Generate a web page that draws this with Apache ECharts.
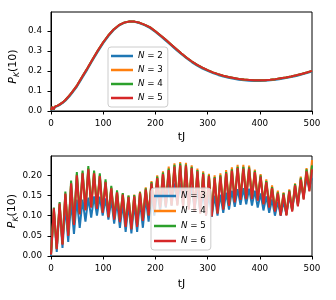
<!DOCTYPE html>
<html><head><meta charset="utf-8">
<script src="https://cdn.jsdelivr.net/npm/echarts@6/dist/echarts.min.js"></script>
<style>html,body{margin:0;padding:0;background:#fff}#c{width:336px;height:300px}</style>
</head><body><div id="c"></div>
<script>
// ---- top panel data ----
const topT = [0,2.5,5,7.5,10,12.5,15,17.5,20,22.5,25,27.5,30,35,40,45,50,60,70,80,90,100,110,120,130,140,150,160,170,180,190,200,210,220,230,240,250,260,270,280,290,300,310,320,330,340,350,360,370,380,390,400,410,420,430,440,450,460,470,480,490,500];
const topN2 = [0.004,0.017,0.006,0.019,0.011,0.024,0.018,0.031,0.027,0.040,0.039,0.051,0.054,0.072,0.088,0.105,0.123,
  0.166,0.209,0.254,0.297,0.338,0.374,0.404,0.426,0.440,0.446,0.445,0.438,0.427,0.413,0.394,0.373,0.351,0.328,0.305,0.283,
  0.262,0.243,0.226,0.212,0.200,0.189,0.180,0.172,0.166,0.161,0.156,0.153,0.151,0.150,0.150,0.151,0.153,0.156,0.160,0.164,
  0.169,0.175,0.182,0.189,0.197];
const topN345 = [0.006,0.020,0.008,0.022,0.013,0.027,0.020,0.034,0.030,0.043,0.042,0.055,0.058,0.077,0.093,0.110,0.128,
  0.172,0.215,0.260,0.303,0.343,0.378,0.407,0.428,0.441,0.447,0.446,0.440,0.430,0.417,0.398,0.377,0.355,0.332,0.309,0.287,
  0.266,0.247,0.230,0.216,0.204,0.193,0.184,0.176,0.170,0.165,0.160,0.157,0.155,0.153,0.153,0.154,0.156,0.159,0.163,0.167,
  0.172,0.178,0.185,0.192,0.200];

// ---- bottom panel data (alternating trough / peak times) ----
const botT = [0,5.5,11,16.5,22,27.5,33,38.5,44,49.5,55,60.5,66,71.5,77,82.5,88,93.5,99,104.5,110,115.5,121,126.5,132,137.5,143,148.5,154,159.5,165,170.5,176,181.5,187,192.5,198,203.5,209,214.5,220,225.5,231,236.5,242,247.5,253,258.5,264,269.5,275,280.5,286,291.5,297,302.5,308,313.5,319,324.5,330,335.5,341,346.5,352,357.5,363,368.5,374,379.5,385,390.5,396,401.5,407,412.5,418,423.5,429,434.5,440,445.5,451,456.5,462,467.5,473,478.5,484,489.5,495,500];
const n3Troughs = [0.0,0.01,0.02,0.035,0.055,0.07,0.085,0.095,0.1,0.1,0.09,0.08,0.07,0.06,0.056,0.06,0.07,0.085,0.1,0.11,0.12,0.125,0.128,0.127,0.122,0.115,0.107,0.1,0.097,0.1,0.107,0.115,0.122,0.127,0.128,0.125,0.12,0.113,0.107,0.1,0.1,0.103,0.115,0.13,0.15,0.172];
const n3Peaks   = [0.11,0.12,0.125,0.135,0.14,0.14,0.145,0.148,0.147,0.143,0.14,0.135,0.13,0.128,0.13,0.135,0.145,0.155,0.165,0.172,0.178,0.18,0.18,0.178,0.172,0.165,0.158,0.152,0.15,0.152,0.157,0.162,0.166,0.168,0.167,0.162,0.155,0.148,0.14,0.134,0.135,0.148,0.163,0.178,0.19,0.193];
const n4Troughs = [0.004,0.018,0.03,0.052,0.08,0.105,0.115,0.122,0.12,0.11,0.1,0.095,0.09,0.078,0.07,0.078,0.09,0.103,0.118,0.125,0.128,0.13,0.13,0.127,0.122,0.116,0.11,0.105,0.103,0.11,0.12,0.13,0.138,0.144,0.147,0.146,0.142,0.133,0.124,0.114,0.105,0.104,0.113,0.127,0.145,0.168];
const n4Peaks   = [0.116,0.13,0.153,0.18,0.203,0.207,0.218,0.21,0.2,0.186,0.17,0.16,0.155,0.15,0.152,0.16,0.17,0.186,0.2,0.21,0.222,0.23,0.233,0.231,0.225,0.217,0.21,0.204,0.2,0.205,0.213,0.22,0.226,0.226,0.224,0.214,0.203,0.19,0.175,0.162,0.158,0.165,0.18,0.197,0.218,0.238];
const n5Troughs = [0.005,0.018,0.03,0.052,0.079,0.105,0.115,0.122,0.119,0.109,0.098,0.093,0.088,0.076,0.068,0.077,0.089,0.102,0.117,0.122,0.125,0.127,0.127,0.122,0.117,0.112,0.107,0.102,0.1,0.107,0.117,0.126,0.135,0.141,0.143,0.143,0.139,0.13,0.122,0.112,0.102,0.102,0.112,0.125,0.142,0.162];
const n5Peaks   = [0.12,0.134,0.16,0.187,0.208,0.212,0.223,0.212,0.205,0.19,0.174,0.163,0.156,0.15,0.151,0.158,0.168,0.183,0.197,0.207,0.217,0.226,0.229,0.227,0.221,0.213,0.206,0.2,0.196,0.2,0.208,0.215,0.221,0.221,0.22,0.211,0.2,0.186,0.171,0.158,0.156,0.163,0.178,0.194,0.215,0.225];
const n6Troughs = [0.004,0.017,0.028,0.05,0.077,0.103,0.113,0.12,0.117,0.107,0.096,0.09,0.084,0.072,0.066,0.072,0.087,0.10,0.115,0.12,0.123,0.125,0.125,0.12,0.115,0.11,0.105,0.10,0.098,0.105,0.115,0.124,0.133,0.139,0.141,0.141,0.137,0.128,0.12,0.11,0.10,0.10,0.11,0.123,0.14,0.16];
const n6Peaks   = [0.118,0.13,0.155,0.18,0.2,0.205,0.215,0.205,0.198,0.183,0.168,0.158,0.152,0.146,0.148,0.156,0.165,0.18,0.193,0.203,0.213,0.222,0.225,0.224,0.218,0.21,0.203,0.198,0.193,0.197,0.205,0.212,0.218,0.217,0.217,0.208,0.197,0.183,0.168,0.155,0.153,0.16,0.175,0.19,0.21,0.215];

// ---- ticks / labels ----
const xTicks = [0,100,200,300,400,500];
const yTicksTop = [0,0.1,0.2,0.3,0.4];
const yTicksBot = [0,0.05,0.1,0.15,0.2];
const topNames = ['2','3','4','5'];
const botNames = ['3','4','5','6'];
const colors = ['#1f77b4','#ff7f0e','#2ca02c','#d62728'];

const FF = 'DejaVu Sans';
function interleave(tr, pk){ const o=[]; for(let i=0;i<tr.length;i++){o.push(tr[i]); o.push(pk[i]);} return o; }
function pairs(t, v){ return t.map((x,i)=>[x, v[i]]); }

const topVals = [topN2, topN345, topN345, topN345];
const botVals = [interleave(n3Troughs,n3Peaks), interleave(n4Troughs,n4Peaks), interleave(n5Troughs,n5Peaks), interleave(n6Troughs,n6Peaks)];

function xAxis(gi, gap){
  return {type:'value', gridIndex:gi, min:0, max:500, interval:100,
    axisLine:{show:true, onZero:false, lineStyle:{color:'#000', width:1}},
    axisTick:{show:true, length:3.5, lineStyle:{color:'#000', width:1}, customValues:xTicks},
    axisLabel:{color:'#000', fontSize:8.8, fontFamily:FF, margin:8, customValues:xTicks},
    splitLine:{show:false},
    name:'tJ', nameLocation:'middle', nameGap:gap,
    nameTextStyle:{color:'#000', fontSize:11, fontFamily:FF}};
}
function yAxis(gi, max, ticks, dec, gap){
  return {type:'value', gridIndex:gi, min:0, max:max,
    axisLine:{show:true, onZero:false, lineStyle:{color:'#000', width:1}},
    axisTick:{show:true, length:3.5, lineStyle:{color:'#000', width:1}, customValues:ticks},
    axisLabel:{color:'#000', fontSize:8.8, fontFamily:FF, margin:9, customValues:ticks, formatter:v=>v.toFixed(dec)},
    splitLine:{show:false},
    name:'{i|P}{s|K}{r|(10)}', nameLocation:'middle', nameGap:gap, nameMoveOverlap:false,
    nameTextStyle:{color:'#000', fontSize:11, fontFamily:FF, padding:[0,10,0,0],
      rich:{
        i:{fontStyle:'italic', fontSize:11, fontFamily:FF, color:'#000', lineHeight:15},
        s:{fontStyle:'italic', fontSize:7.7, fontFamily:FF, color:'#000', lineHeight:10, verticalAlign:'bottom'},
        r:{fontSize:11, fontFamily:FF, color:'#000', lineHeight:15}
      }}};
}

const series = [];
topNames.forEach((n,i)=>series.push({type:'line', name:'a'+n, xAxisIndex:0, yAxisIndex:0, data:pairs(topT, topVals[i]),
  showSymbol:false, symbol:'none', color:colors[i], lineStyle:{width:2, color:colors[i]}, animation:false}));
botNames.forEach((n,i)=>series.push({type:'line', name:'b'+n, xAxisIndex:1, yAxisIndex:1, data:pairs(botT, botVals[i]),
  showSymbol:false, symbol:'none', color:colors[i], lineStyle:{width:2, color:colors[i]}, animation:false}));

function legend(names, prefix, left, top, pad, gap){
  return {data:names.map(n=>prefix+n), orient:'vertical', left:left, top:top, icon:'rect', itemWidth:22, itemHeight:2.5,
    itemGap:gap, padding:pad, backgroundColor:'rgba(255,255,255,0.8)', borderColor:'#cccccc', borderWidth:1, borderRadius:3,
    selectedMode:false,
    formatter:name=>'{i|N} = '+name.slice(1),
    textStyle:{color:'#000', fontSize:8.7, fontFamily:FF, lineHeight:12,
      rich:{i:{fontStyle:'italic', fontSize:8.7, fontFamily:FF, color:'#000', lineHeight:12}}}};
}

const chart = echarts.init(document.getElementById('c'), null, {renderer:'canvas'});
chart.setOption({
  animation:false,
  backgroundColor:'#fff',
  grid:[
    {left:51, top:12, width:261, height:99, show:true, borderColor:'#000', borderWidth:1, containLabel:false, outerBoundsMode:'none'},
    {left:51, top:156, width:261, height:100, show:true, borderColor:'#000', borderWidth:1, containLabel:false, outerBoundsMode:'none'}
  ],
  xAxis:[xAxis(0,21), xAxis(1,23)],
  yAxis:[yAxis(0, 0.494, yTicksTop, 1, 30), yAxis(1, 0.248, yTicksBot, 2, 31)],
  legend:[legend(topNames,'a',108,47,[3,5,3,3],2), legend(botNames,'b',151,188,[2,5,3,3],3)],
  series:series
});
</script></body></html>
